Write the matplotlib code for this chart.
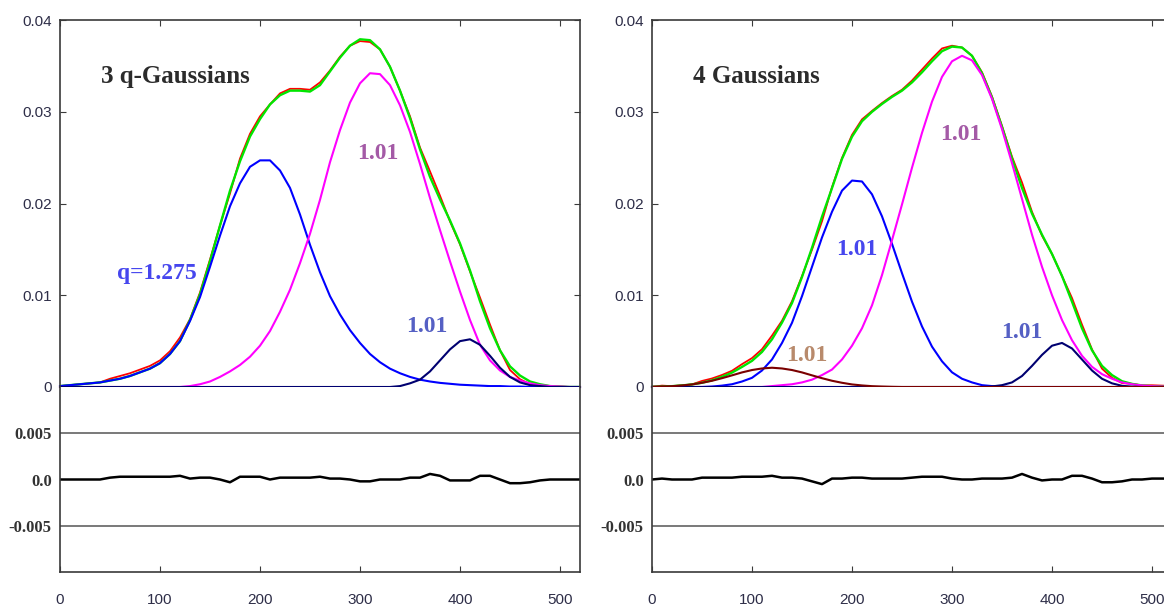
import numpy as np
import matplotlib.pyplot as plt

plt.rcParams['font.family'] = ['Liberation Sans', 'DejaVu Sans']

# sample positions
x = np.arange(0, 521, 10)

# ---- left panel: 3 q-Gaussians ----
blue_l = [0.0001, 0.0002, 0.0003, 0.0004, 0.0005, 0.0007, 0.0009, 0.0012, 0.0016, 0.0020,
          0.0026, 0.0036, 0.0050, 0.0072, 0.0098, 0.0131, 0.0165, 0.0197, 0.0222, 0.0240,
          0.0247, 0.0247, 0.0236, 0.0217, 0.0188, 0.0155, 0.0125, 0.0099, 0.0079, 0.0062,
          0.0048, 0.0036, 0.0027, 0.0020, 0.0015, 0.0011, 0.0008, 0.0006, 0.00045, 0.00035,
          0.00025, 0.0002, 0.00015, 0.0001, 0.0001, 0.00005, 0.00005, 0, 0, 0,
          0, 0, 0]
magenta_l = [0] * 12 + [0, 0.0001, 0.0003, 0.0006, 0.0011, 0.0017, 0.0024, 0.0033,
                        0.0045, 0.0061, 0.0082, 0.0106, 0.0135, 0.0167, 0.0204, 0.0245,
                        0.0280, 0.0310, 0.0331, 0.0342, 0.0341, 0.0329, 0.0307, 0.0278,
                        0.0243, 0.0206, 0.0171, 0.0137, 0.0104, 0.0073, 0.0046, 0.0029,
                        0.0018, 0.0011, 0.0007, 0.0004, 0.0002, 0.0001, 0.00005, 0, 0]
navy_l = [0] * 33 + [0, 0.0001, 0.0004, 0.0008, 0.0017, 0.0029, 0.0041, 0.0050, 0.0052,
                     0.0046, 0.0034, 0.0021, 0.0011, 0.0005, 0.0002, 0.0001, 0, 0, 0, 0]
resid_l = [0, 0, 0, 0, 0, 0.0002, 0.0003, 0.0003, 0.0003, 0.0003,
           0.0003, 0.0003, 0.0004, 0.0001, 0.0002, 0.0002, 0.0, -0.0003, 0.0003, 0.0003,
           0.0003, 0.0, 0.0002, 0.0002, 0.0002, 0.0002, 0.0003, 0.0001, 0.0001, 0.0,
           -0.0002, -0.0002, 0, 0, 0, 0.0002, 0.0002, 0.0006, 0.0004, -0.0001,
           -0.0001, -0.0001, 0.0004, 0.0004, 0.0, -0.0004, -0.0004, -0.0003, -0.0001, 0,
           0, 0, 0]

# ---- right panel: 4 Gaussians ----
blue_r = [0, 0, 0, 0, 0, 0, 0.00005, 0.00015, 0.0003, 0.0006,
          0.0010, 0.0018, 0.0030, 0.0048, 0.0070, 0.0099, 0.0131, 0.0163, 0.0191, 0.0214,
          0.0225, 0.0224, 0.0210, 0.0186, 0.0156, 0.0124, 0.0093, 0.0066, 0.0044, 0.0028,
          0.0016, 0.0009, 0.0005, 0.0002, 0.0001, 0.00005] + [0] * 17
magenta_r = [0] * 12 + [0.0001, 0.0002, 0.0003, 0.0005, 0.0008, 0.0013, 0.0019, 0.0030,
                        0.0045, 0.0064, 0.0089, 0.0122, 0.0160, 0.0199, 0.0239, 0.0277,
                        0.0311, 0.0338, 0.0355, 0.0361, 0.0356, 0.0340, 0.0314, 0.0281,
                        0.0244, 0.0205, 0.0166, 0.0131, 0.0100, 0.0073, 0.0051, 0.0034,
                        0.0022, 0.0014, 0.0009, 0.0005, 0.0003, 0.00017, 0.00009, 0.00005,
                        0.00002]
navy_r = [0] * 34 + [0.00006, 0.0002, 0.0005, 0.0012, 0.0023, 0.0035, 0.0045, 0.0048,
                     0.0042, 0.0030, 0.0018, 0.0009, 0.0004, 0.00013, 0.00004, 0, 0, 0, 0]
brown_r = [0.00002, 0.00005, 0.00009, 0.00017, 0.00028, 0.00046, 0.00068, 0.00096, 0.00127, 0.00159,
           0.00185, 0.00202, 0.0021, 0.00202, 0.00185, 0.00159, 0.00127, 0.00096, 0.00068, 0.00046,
           0.00028, 0.00017, 0.00009, 0.00005, 0.00002] + [0] * 28
resid_r = [0, 0.0001, 0, 0, 0, 0.0002, 0.0002, 0.0002, 0.0002, 0.0003,
           0.0003, 0.0003, 0.0004, 0.0002, 0.0002, 0.0001, -0.0002, -0.0005, 0.0001, 0.0001,
           0.0002, 0.0002, 0.0001, 0.0001, 0.0001, 0.0001, 0.0002, 0.0003, 0.0003, 0.0003,
           0.0001, 0, 0, 0.0001, 0.0001, 0.0001, 0.0002, 0.0006, 0.0002, -0.0001,
           0, 0, 0.0004, 0.0004, 0.0001, -0.0003, -0.0003, -0.0002, 0, 0,
           0.0001, 0.0001, 0.0001]

# annotation labels: (text, x, y, colour)
labels_l = [("q=1.275", 97, 0.0124, '#4646ee'),
            ("1.01", 318, 0.0255, '#a45aa6'),
            ("1.01", 367, 0.0066, '#5560c4')]
labels_r = [("1.01", 205, 0.0150, '#4646ee'),
            ("1.01", 155, 0.0034, '#b88a6c'),
            ("1.01", 309, 0.0275, '#a45aa6'),
            ("1.01", 370, 0.0059, '#5560c4')]

ref_levels = [-0.005, 0.005]

W, H = 1164, 608
fig = plt.figure(figsize=(W / 100, H / 100), dpi=100)

spine_c = '#3a3a3a'
tick_c = '#2e2e48'
serif = ['Liberation Serif', 'DejaVu Serif']


def panel(left_px, comps, colors, resid, title, labels):
    comps = [np.array(c, dtype=float) for c in comps]
    fit = sum(comps)
    data = fit + np.array(resid)

    ax = fig.add_axes([left_px / W, (H - 387) / H, 520 / W, 367 / H])
    ax.plot(x, data, color='#ff0000', lw=1.3)
    ax.plot(x, fit, color='#00e600', lw=1.7)
    for c, col in zip(comps, colors):
        ax.plot(x, c, color=col, lw=1.5, clip_on=False)
    ax.set_xlim(0, 520)
    ax.set_ylim(0, 0.04)
    ax.set_xticks([0, 100, 200, 300, 400, 500])
    ax.set_yticks([0, 0.01, 0.02, 0.03, 0.04])
    ax.set_yticklabels(['0', '0.01', '0.02', '0.03', '0.04'])
    ax.tick_params(direction='in', length=4, top=True, right=True, bottom=False,
                   labelbottom=False, labelsize=11, labelcolor=tick_c, color=spine_c, pad=6)
    ax.spines['bottom'].set_visible(False)
    for s in ['left', 'right', 'top']:
        ax.spines[s].set_color(spine_c)
        ax.spines[s].set_linewidth(1.2)
    ax.text(41, 0.0338, title, fontsize=18, fontweight='bold', family=serif,
            color='#2b2b2b', ha='left', va='center')
    for txt, tx, ty, col in labels:
        ax.text(tx, ty, txt, fontsize=17, fontweight='bold', family=serif,
                color=col, ha='center', va='center')

    rx = fig.add_axes([left_px / W, (H - 572) / H, 520 / W, 185 / H])
    for lv in ref_levels:
        rx.axhline(lv, color='#555555', lw=1.1)
    rx.plot(x, resid, color='black', lw=1.8)
    rx.set_xlim(0, 520)
    rx.set_ylim(-0.01, 0.01)
    rx.set_xticks([0, 100, 200, 300, 400, 500])
    rx.set_yticks([-0.005, 0, 0.005])
    rx.set_yticklabels(['-0.005', '0.0', '0.005'], family=serif, fontweight='bold',
                       fontsize=12, color='#333333')
    rx.tick_params(axis='y', length=0, pad=6)
    rx.tick_params(axis='x', direction='in', length=4, labelsize=11,
                   labelcolor=tick_c, color=spine_c, pad=15)
    rx.spines['top'].set_visible(False)
    for s in ['left', 'right', 'bottom']:
        rx.spines[s].set_color(spine_c)
        rx.spines[s].set_linewidth(1.2)


panel(60, [blue_l, magenta_l, navy_l], ['#0000ff', '#ff00ff', '#000070'],
      resid_l, "3 q-Gaussians", labels_l)
panel(652, [blue_r, magenta_r, navy_r, brown_r], ['#0000ff', '#ff00ff', '#000070', '#7a0000'],
      resid_r, "4 Gaussians", labels_r)

fig.savefig('out.png', dpi=100)
